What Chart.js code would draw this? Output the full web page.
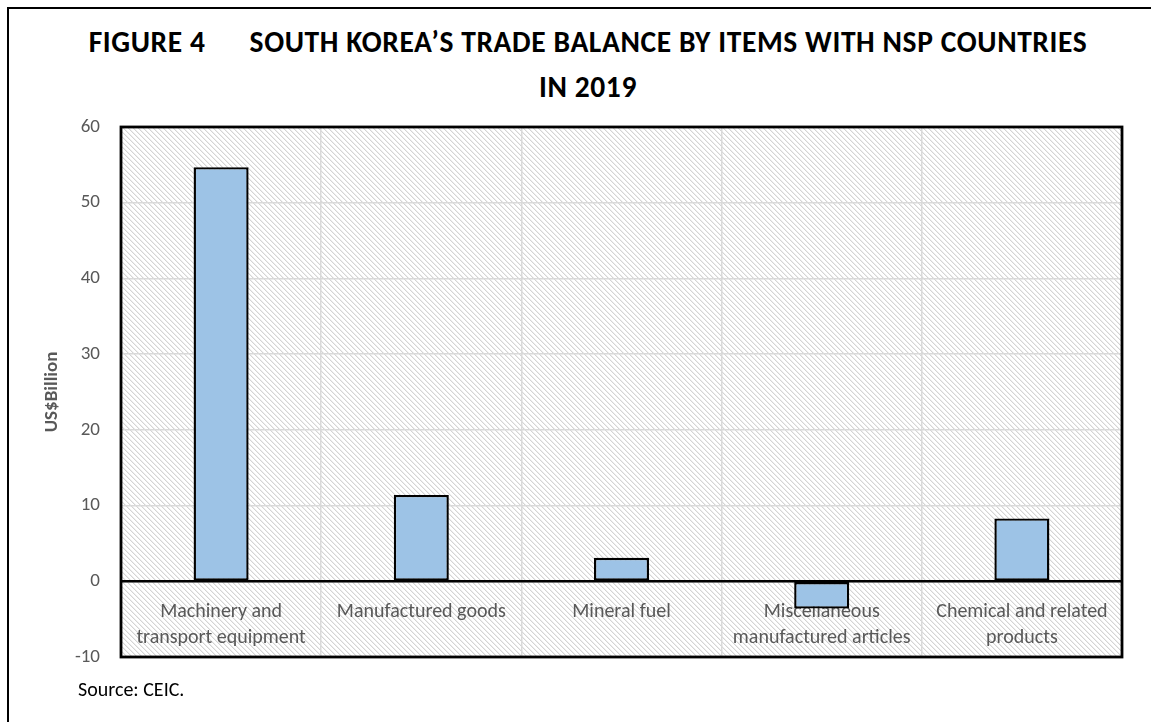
<!DOCTYPE html>
<html>
<head>
<meta charset="utf-8">
<script src="https://cdn.jsdelivr.net/npm/chart.js@4.4.1/dist/chart.umd.min.js"></script>
<style>
  html, body { margin: 0; padding: 0; background: #fff; overflow: hidden; }
  #wrap { position: relative; width: 1151px; height: 722px; }
  #frame { position: absolute; left: 7px; top: 7px; width: 1160px; height: 730px;
           border-top: 2px solid #000; border-left: 2px solid #000; box-sizing: border-box; }
  #title { position: absolute; left: 0; top: 20px; width: 1176px; text-align: center;
           font-family: Carlito, Calibri, Lato, sans-serif; font-weight: bold; font-size: 29.5px;
           letter-spacing: 0.6px; line-height: 45px; color: #000; white-space: pre; }
  #title .gap { display: inline-block; width: 44px; }
  #source { position: absolute; left: 78px; top: 677px; font-family: Carlito, Calibri, Lato, sans-serif;
            font-size: 20px; color: #000; }
  canvas { position: absolute; left: 0; top: 0; }
</style>
</head>
<body>
<div id="wrap">
  <div id="frame"></div>
  <div id="title">FIGURE 4<span class="gap"></span>SOUTH KOREA’S TRADE BALANCE BY ITEMS WITH NSP COUNTRIES<br>IN 2019</div>
  <canvas id="c" width="1151" height="722"></canvas>
  <div id="source">Source: CEIC.</div>
</div>
<script>
const categories = [
  ["Machinery and", "transport equipment"],
  "Manufactured goods",
  "Mineral fuel",
  ["Miscellaneous", "manufactured articles"],
  ["Chemical and related", "products"]
];
const balanceValues = [54.7, 11.4, 3.1, -3.6, 8.3];
const yTickMin = -10;
const yTickMax = 60;
const yTickStep = 10;
const yTitle = "US$Billion";

const FONT = "Carlito, Calibri, Lato, sans-serif";

function makeHatch() {
  const s = 5;
  const c = document.createElement('canvas');
  c.width = s; c.height = s;
  const ctx = c.getContext('2d');
  ctx.fillStyle = '#ffffff';
  ctx.fillRect(0, 0, s, s);
  const img = ctx.getImageData(0, 0, s, s);
  for (let y = 0; y < s; y++) {
    for (let x = 0; x < s; x++) {
      const i = (y * s + x) * 4;
      const d = (x - y + s) % s;
      let v = 255;
      if (d === 0) v = 212; else if (d === 1) v = 238;
      img.data[i] = v; img.data[i+1] = v; img.data[i+2] = v;
    }
  }
  ctx.putImageData(img, 0, 0);
  return c;
}

const plotDecor = {
  id: 'plotDecor',
  beforeDraw(chart) {
    const {ctx, chartArea: a} = chart;
    ctx.save();
    ctx.fillStyle = ctx.createPattern(makeHatch(), 'repeat');
    ctx.fillRect(a.left, a.top, a.right - a.left, a.bottom - a.top);
    ctx.restore();
  },
  afterDraw(chart) {
    const {ctx, chartArea: a} = chart;
    ctx.save();
    ctx.strokeStyle = '#000';
    ctx.lineWidth = 2.8;
    ctx.strokeRect(a.left, a.top, a.right - a.left, a.bottom - a.top);
    ctx.restore();
  }
};

new Chart(document.getElementById('c'), {
  type: 'bar',
  data: {
    labels: categories,
    datasets: [{
      data: balanceValues,
      backgroundColor: '#9DC3E6',
      borderColor: '#000',
      borderWidth: 2.4,
      borderSkipped: false,
      barPercentage: 0.275,
      categoryPercentage: 1.0
    }]
  },
  options: {
    responsive: false,
    animation: false,
    devicePixelRatio: 1,
    layout: { padding: { top: 127, right: 29, bottom: 65, left: 0 } },
    plugins: { legend: { display: false }, tooltip: { enabled: false }, title: { display: false } },
    scales: {
      x: {
        position: { y: 0 },
        z: 1,
        grid: { color: '#d9d9d9', lineWidth: 1.5, offset: true, drawTicks: false },
        border: { color: '#000', width: 2.4 },
        ticks: {
          color: '#595959', padding: 18, maxRotation: 0, autoSkip: false,
          font: { family: FONT, size: 20, lineHeight: 1.3 }
        }
      },
      y: {
        min: yTickMin, max: yTickMax,
        afterFit(scale) { scale.width = 121; },
        grid: { color: '#d9d9d9', lineWidth: 1.5, drawTicks: false },
        border: { display: false },
        ticks: {
          stepSize: yTickStep, color: '#595959', padding: 21,
          font: { family: FONT, size: 19 }
        },
        title: {
          display: true, text: yTitle, color: '#595959',
          font: { family: FONT, size: 19, weight: 'bold' },
          padding: { top: 41, bottom: 0 }
        }
      }
    }
  },
  plugins: [plotDecor]
});
</script>
</body>
</html>
